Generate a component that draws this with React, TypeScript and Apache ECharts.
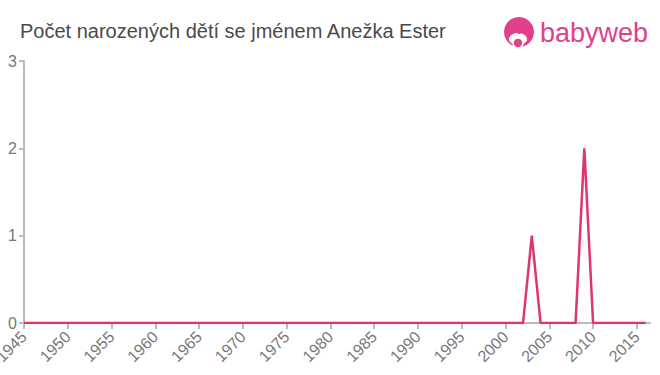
import React, { useEffect, useRef } from "react";
import * as echarts from "echarts";

const years: number[] = [];
for (let y = 1945; y <= 2016; y++) years.push(y);
const peakYears = [2003, 2009];
const peakValues = [1, 2];
const values: number[] = years.map((y) => {
  const i = peakYears.indexOf(y);
  return i >= 0 ? peakValues[i] : 0;
});
const xTickLabels = [1945, 1950, 1955, 1960, 1965, 1970, 1975, 1980, 1985, 1990, 1995, 2000, 2005, 2010, 2015];
const yTickLabels = [0, 1, 2, 3];
const title = "Počet narozených dětí se jménem Anežka Ester";

export default function App() {
  const ref = useRef<HTMLDivElement>(null);
  useEffect(() => {
    if (!ref.current) return;
    const chart = echarts.init(ref.current, undefined, { renderer: "svg" });
    chart.setOption({
      animation: false,
      title: {
        text: title,
        left: 15,
        top: 16,
        textStyle: { fontFamily: "Liberation Sans, Arial, sans-serif", fontSize: 20, fontWeight: "normal", color: "#4a4a4a" },
      },
      grid: { left: 24, right: 10, top: 61, bottom: 52, outerBoundsMode: "none", containLabel: false },
      xAxis: {
        type: "value",
        min: 1945,
        max: 2016.5,
        axisLine: { lineStyle: { color: "#bbb", width: 2 } },
        axisTick: { show: true, length: 6, lineStyle: { color: "#bbb", width: 2 }, customValues: xTickLabels },
        axisLabel: {
          customValues: xTickLabels,
          rotate: 45,
          color: "#777",
          fontSize: 16,
          fontFamily: "Liberation Sans, Arial, sans-serif",
          margin: 11,
          formatter: (v: number) => String(v),
        },
        splitLine: { show: false },
      },
      yAxis: {
        type: "value",
        min: 0,
        max: 3,
        interval: 1,
        axisLine: { show: true, lineStyle: { color: "#bbb", width: 2 } },
        axisTick: { show: true, length: 5, lineStyle: { color: "#bbb", width: 2 } },
        axisLabel: {
          color: "#777",
          fontSize: 16,
          fontFamily: "Liberation Sans, Arial, sans-serif",
          margin: 7,
          formatter: (v: number) => (yTickLabels.includes(v) ? String(v) : ""),
        },
        splitLine: { show: false },
      },
      series: [
        {
          type: "line",
          data: years.map((y, i) => [y, values[i]]),
          showSymbol: false,
          symbol: "none",
          lineStyle: { color: "#e0356a", width: 2.5 },
          z: 5,
        },
      ],
      graphic: [
        { type: "circle", shape: { cx: 519, cy: 32, r: 15 }, style: { fill: "#e0418a" } },
        { type: "ellipse", shape: { cx: 518, cy: 39, rx: 9, ry: 6 }, style: { fill: "#fff" } },
        { type: "circle", shape: { cx: 518, cy: 43, r: 5 }, style: { fill: "#e0418a", stroke: "#fff", lineWidth: 1.5 } },
        { type: "circle", shape: { cx: 519, cy: 31, r: 3 }, style: { fill: "#e0418a" } },
        {
          type: "text",
          x: 540,
          y: 33,
          style: {
            text: "babyweb",
            fill: "#e0418a",
            fontSize: 27,
            fontFamily: "Liberation Sans, Arial, sans-serif",
            verticalAlign: "middle",
          },
        },
      ],
    });
    return () => chart.dispose();
  }, []);
  return <div ref={ref} style={{ width: 660, height: 375, position: "absolute", left: 0, top: 0 }} />;
}
